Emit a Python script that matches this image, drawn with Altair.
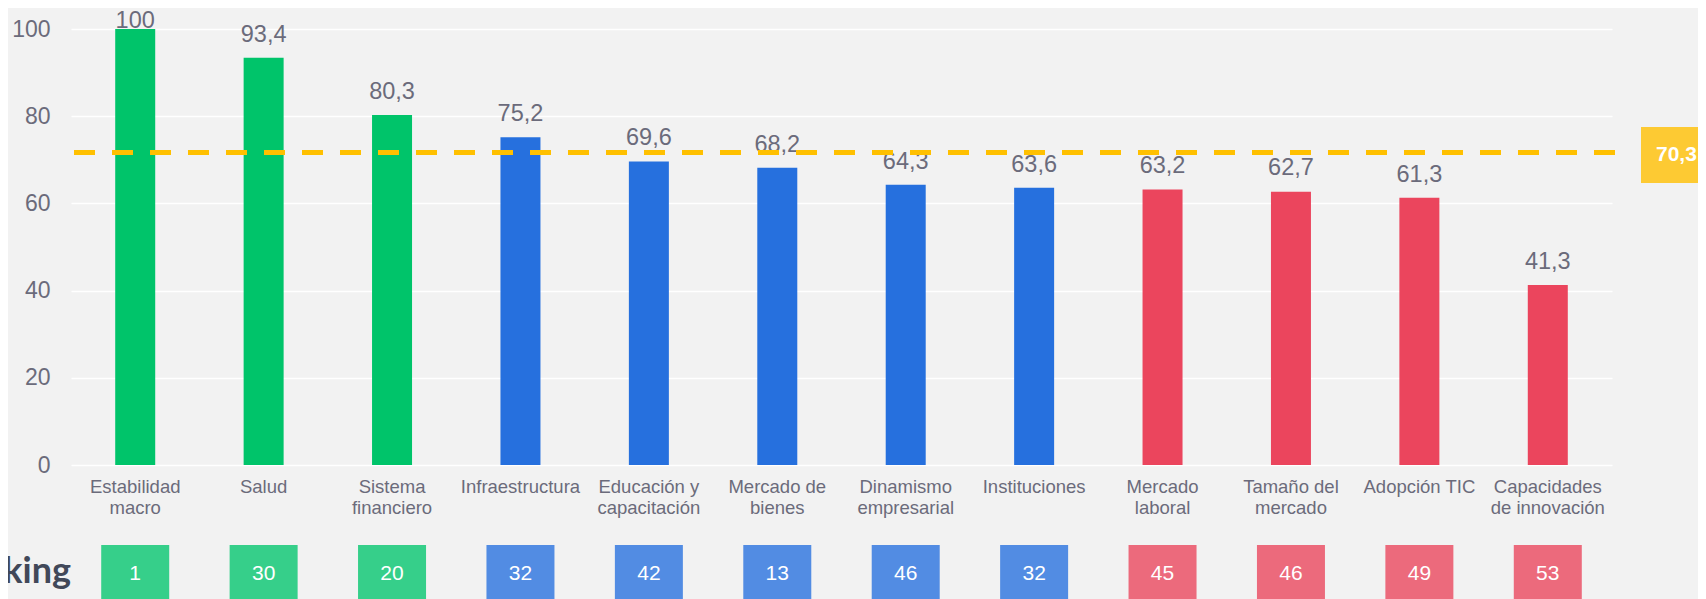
import altair as alt
import pandas as pd

categories = ["Estabilidad\nmacro", "Salud", "Sistema\nfinanciero", "Infraestructura",
              "Educación y\ncapacitación", "Mercado de\nbienes", "Dinamismo\nempresarial",
              "Instituciones", "Mercado\nlaboral", "Tamaño del\nmercado", "Adopción TIC",
              "Capacidades\nde innovación"]
values = [100, 93.4, 80.3, 75.2, 69.6, 68.2, 64.3, 63.6, 63.2, 62.7, 61.3, 41.3]
groups = ["alto", "alto", "alto", "medio", "medio", "medio", "medio", "medio",
          "bajo", "bajo", "bajo", "bajo"]
ranks = [1, 30, 20, 32, 42, 13, 46, 32, 45, 46, 49, 53]
avg_line = 71.7
avg_label = "70,3"
rank_title = "Ranking"

group_domain = ["alto", "medio", "bajo"]
bar_colors = ["#00C46A", "#2670DE", "#EB455D"]
box_colors = ["#36CF8A", "#528CE3", "#EC6A7C"]

df = pd.DataFrame({"cat": categories, "value": values, "group": groups,
                   "grupo": groups, "rank": ranks})

W, H = 1541, 436
TXT = "#6B6B7B"
FONT = "Liberation Sans"

x = alt.X("cat:N", sort=categories, axis=None,
          scale=alt.Scale(paddingInner=0, paddingOuter=0))
yscale = alt.Scale(domain=[0, 100], nice=False)

base = alt.Chart(df)

bars = base.mark_bar(size=40).encode(
    x=x,
    y=alt.Y("value:Q", scale=yscale,
            axis=alt.Axis(values=[0, 20, 40, 60, 80, 100], title=None,
                          labelFontSize=23, labelColor=TXT, labelFont=FONT,
                          labelPadding=21, ticks=False, domain=False,
                          gridColor="#FFFFFF", gridWidth=1.5)),
    color=alt.Color("group:N", scale=alt.Scale(domain=group_domain, range=bar_colors),
                    legend=None),
)

# labels sit ~16px above the bar, clamped just above the top of the plot
vlabels = base.transform_calculate(
    lab="replace(toString(datum.value), '.', ',')",
    labpos="min(datum.value + 3.7, 100.3)"
).mark_text(baseline="alphabetic", fontSize=23.5, color=TXT, font=FONT).encode(
    x=x, y=alt.Y("labpos:Q", scale=yscale), text="lab:N")

xlabels = base.mark_text(baseline="top", fontSize=18.5, lineHeight=21, color=TXT,
                         font=FONT, lineBreak="\n").encode(
    x=x, y=alt.value(H + 13), text="cat:N")

boxes = base.mark_bar(size=68).encode(
    x=x, y=alt.value(516), y2=alt.value(575),
    color=alt.Color("grupo:N", scale=alt.Scale(domain=group_domain, range=box_colors),
                    legend=None))

box_text = base.mark_text(fontSize=21, color="#FFFFFF", font=FONT, baseline="middle").encode(
    x=x, y=alt.value(545), text="rank:N")

one = pd.DataFrame({"avg": [avg_line], "lab": [avg_label], "title": [rank_title]})
rule = alt.Chart(one).mark_rule(color="#FFC000", strokeWidth=5, strokeDash=[21, 17]).encode(
    y=alt.Y("avg:Q", scale=yscale), x=alt.value(3), x2=alt.value(1548))

ybox = alt.Chart(one).mark_rect(color="#FDCA33").encode(
    x=alt.value(1570), x2=alt.value(1632), y=alt.value(98), y2=alt.value(154))
ytext = alt.Chart(one).mark_text(color="#FFFFFF", fontSize=21, fontWeight="bold",
                                 font=FONT, align="left", baseline="middle").encode(
    x=alt.value(1585), y=alt.value(126), text="lab:N")

rtitle = alt.Chart(one).mark_text(color="#414859", fontSize=36, fontWeight="bold",
                                  font="Lato", align="right", baseline="alphabetic").encode(
    x=alt.value(0), y=alt.value(554), text="title:N")

chart = alt.layer(bars, vlabels, xlabels, boxes, box_text, rule, ybox, ytext, rtitle).resolve_scale(
    color="independent"
).properties(
    width=W, height=H,
    autosize=alt.AutoSizeParams(type="none"),
    padding={"left": 63, "top": 21, "right": 86, "bottom": 134},
    background="#F2F2F2",
).configure_view(stroke=None)

chart.save("out.html", embed_options={"renderer": "svg", "actions": False})
